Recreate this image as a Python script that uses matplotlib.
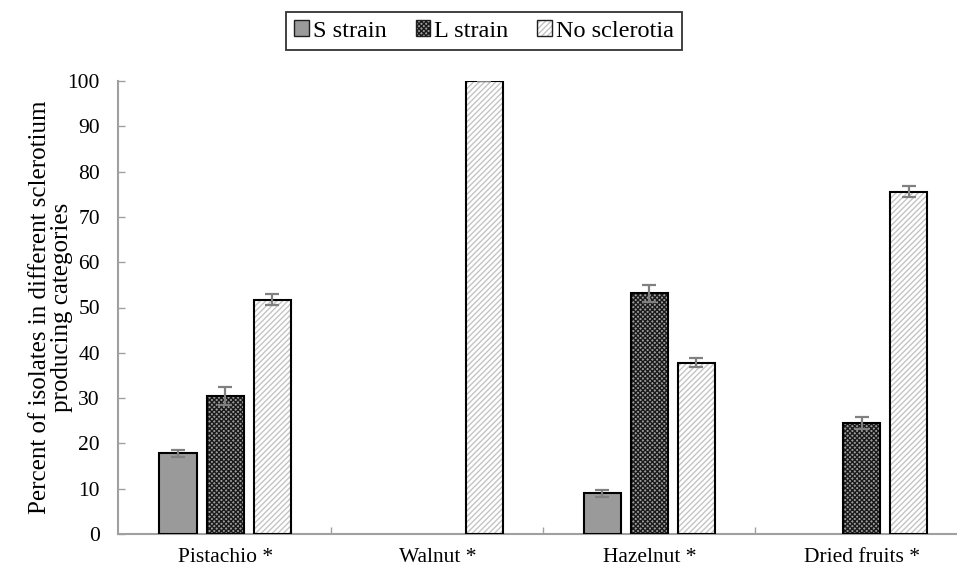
import matplotlib
matplotlib.use("Agg")
import matplotlib.pyplot as plt
from matplotlib.patches import Patch
from matplotlib.legend_handler import HandlerTuple
import numpy as np

plt.rcParams['font.family'] = ['Liberation Serif', 'DejaVu Serif']
plt.rcParams['hatch.linewidth'] = 1.0

categories = ["Pistachio *", "Walnut *", "Hazelnut *", "Dried fruits *"]
series = ["S strain", "L strain", "No sclerotia"]
s_strain = [17.8, 0.0, 9.0, 0.0]
l_strain = [30.5, 0.0, 53.1, 24.5]
no_sclerotia = [51.7, 100.0, 37.8, 75.6]
s_err = [0.8, 0.0, 0.8, 0.0]
l_err = [2.0, 0.0, 1.9, 1.4]
no_err = [1.2, 0.0, 1.0, 1.3]

values = [s_strain, l_strain, no_sclerotia]
errors = [s_err, l_err, no_err]
# face, hatch, hatch colour
styles = [("#9a9a9a", None, "#9a9a9a"),
          ("#9c9c9c", "xxxxxxx", "#1a1a1a"),
          ("white", "//////", "#c4c4c4")]

fig = plt.figure(figsize=(9.57, 5.69), dpi=100)
ax = fig.add_axes([118 / 957, 1 - 534 / 569, 1 - 118 / 957, (534 - 81) / 569])

x = np.arange(len(categories))
width = 0.175
offsets = [-0.222, 0.0, 0.222]

handles = []
for vals, errs, off, (face, hatch, hcol), name in zip(values, errors, offsets, styles, series):
    pos = x + off
    drawn = [i for i, v in enumerate(vals) if v > 0]
    ax.bar(pos[drawn], np.array(vals)[drawn], width, color=face, edgecolor=hcol,
           hatch=hatch, linewidth=0, zorder=2)
    ax.bar(pos[drawn], np.array(vals)[drawn], width, fill=False, edgecolor="black",
           linewidth=1.5, zorder=3)
    ax.errorbar(pos[drawn], np.array(vals)[drawn], yerr=np.array(errs)[drawn], fmt="none",
                ecolor="#808080", elinewidth=1.6, capsize=5, capthick=1.6, zorder=4)
    inner = Patch(facecolor=face, edgecolor=hcol, hatch=hatch, linewidth=0)
    outline = Patch(fill=False, edgecolor="#202020", linewidth=1.0)
    handles.append((inner, outline))

ax.set_ylim(0, 100)
ax.set_xlim(-0.505, 3.45)
ax.set_yticks(np.arange(0, 101, 10))
ax.set_xticks(x)
ax.set_xticklabels(categories)
ax.set_xticks(np.arange(0.5, 3.0, 1.0), minor=True)
ax.tick_params(axis="x", which="major", length=0, labelsize=15.5, pad=10)
ax.tick_params(axis="x", which="minor", direction="in", length=5, color="#a0a0a0", width=1)
ax.tick_params(axis="y", direction="in", length=5, color="#a0a0a0", width=1, labelsize=15.5, pad=13)

for side in ["top", "right"]:
    ax.spines[side].set_visible(False)
for side in ["left", "bottom"]:
    ax.spines[side].set_color("#a0a0a0")
    ax.spines[side].set_linewidth(1.5)

ax.set_ylabel("Percent of isolates in different sclerotium\nproducing categories", fontsize=18,
              linespacing=1.0, labelpad=-4)

leg = fig.legend(handles=handles, labels=series, loc="center",
                 bbox_to_anchor=(484 / 957, 1 - 31 / 569),
                 handler_map={tuple: HandlerTuple(ndivide=1, pad=0)},
                 ncol=3, prop={"family": "Liberation Serif", "size": 17.5},
                 frameon=True, fancybox=False, edgecolor="black",
                 handlelength=0.6, handleheight=0.6, handletextpad=0.15, columnspacing=1.2,
                 borderpad=0.35)
leg.get_frame().set_linewidth(1.3)

fig.savefig("out.png", dpi=100)
